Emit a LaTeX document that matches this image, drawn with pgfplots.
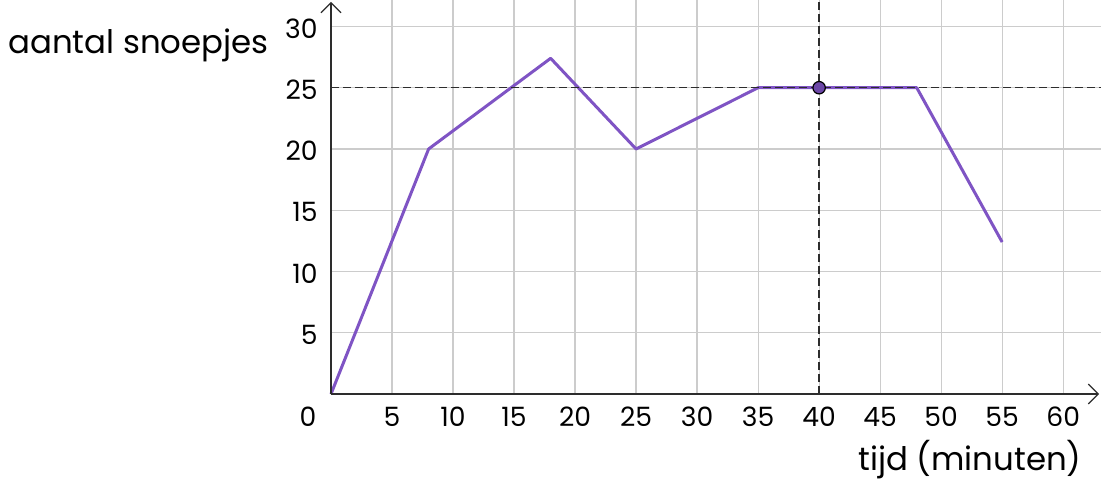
\documentclass[border=0pt]{standalone}
\usepackage{fontspec}
\setmainfont{Poppins}
\usepackage{pgfplots}
\pgfplotsset{compat=1.18}
\usetikzlibrary{arrows.meta}
\definecolor{linepurple}{RGB}{127,84,196}
\definecolor{axisgray}{RGB}{45,45,45}
\definecolor{gridgray}{RGB}{204,204,204}
\begin{document}
\begin{tikzpicture}
\begin{axis}[
  at={(0pt,-1pt)}, anchor=south west,
  scale only axis, width=385pt, height=197pt,
  xmin=0, xmax=63.1, ymin=0, ymax=32.16,
  axis line style={draw=none},
  clip=false,
  xtick={5,10,...,60}, ytick={5,10,...,30},
  major tick length=0pt,
  grid=major, grid style={gridgray, line width=0.6pt},
  /pgf/number format/assume math mode=true,
  tick label style={font=\fontsize{13.3}{13.3}\selectfont, inner sep=0pt},
  xticklabel style={anchor=center, yshift=-11.5pt},
  yticklabel style={anchor=east, xshift=-6.5pt, yshift=-1pt},
]
\addplot[linepurple, line width=1.5pt, line join=round] coordinates {
  (0,0) (8,20) (18,27.4) (25,20) (35,25) (48,25) (55,12.4)
};
\addplot[axisgray, line width=0.75pt, dash pattern=on 4pt off 2pt] coordinates {(0,25) (63.1,25)};
\addplot[axisgray, line width=0.75pt, dash pattern=on 4pt off 2pt] coordinates {(40,0) (40,32.16)};
\addplot[only marks, mark=*, mark size=3.1pt, mark options={fill=linepurple!85!black, draw=black, line width=0.6pt}] coordinates {(40,25)};
\draw[axisgray, line width=0.6pt, -{Straight Barb[length=5pt,width=10pt]}] (axis cs:0,0) -- (axis cs:62.95,0);
\draw[axisgray, line width=0.6pt, -{Straight Barb[length=5pt,width=10pt]}] (axis cs:0,0) -- (axis cs:0,32.0);
\node[font=\fontsize{13.3}{13.3}\selectfont, inner sep=0pt, anchor=center] at ([xshift=-11.5pt,yshift=-11.5pt]axis cs:0,0) {0};
\end{axis}
\node[anchor=base west, inner sep=0pt, font=\fontsize{16.2}{16.2}\selectfont] at (-161.5pt,169.25pt) {aantal snoepjes};
\node[anchor=base east, inner sep=0pt, font=\fontsize{16.2}{16.2}\selectfont] at (375.5pt,-39pt) {tijd (minuten)};
\pgfresetboundingbox
\path (-165.5pt,-50.5pt) rectangle (385pt,196pt);
\end{tikzpicture}
\end{document}
